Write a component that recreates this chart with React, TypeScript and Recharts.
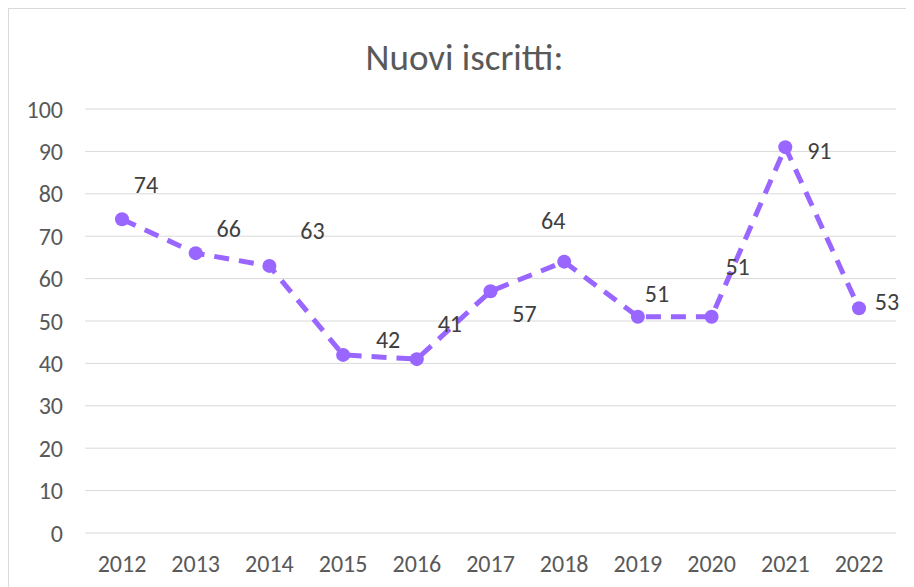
import { LineChart, Line, XAxis, YAxis, CartesianGrid } from "recharts";

const years = ["2012", "2013", "2014", "2015", "2016", "2017", "2018", "2019", "2020", "2021", "2022"];
const iscritti = [74, 66, 63, 42, 41, 57, 64, 51, 51, 91, 53];
const yTicks = [0, 10, 20, 30, 40, 50, 60, 70, 80, 90, 100];

// label placement like the Excel original (dx, dy from the point)
const labelShift: [number, number][] = [
  [24, -35], [33, -25], [43, -35], [45, -15], [33, -36],
  [34, 22], [-11, -41], [19, -23], [26, -50], [34, 3], [28, -7],
];

const data = years.map((year, i) => ({ year, value: iscritti[i] }));

const PURPLE = "#9966FF";
const FONT = "Carlito, 'Liberation Sans', sans-serif";

function renderLabel(props: any) {
  const { x, y, value, index } = props;
  const [dx, dy] = labelShift[index] || [0, -15];
  return (
    <text
      x={x + dx}
      y={y + dy}
      textAnchor="middle"
      dominantBaseline="central"
      fontFamily={FONT}
      fontSize={24}
      fill="#404040"
    >
      {value}
    </text>
  );
}

export default function App() {
  return (
    <div
      style={{
        position: "relative",
        width: 905,
        height: 578,
        borderTop: "1px solid #d9d9d9",
        borderLeft: "1px solid #d9d9d9",
        background: "#fff",
      }}
    >
      <div
        style={{
          position: "absolute",
          top: 26,
          left: 0,
          width: 911,
          textAlign: "center",
          fontFamily: FONT,
          fontSize: 37,
          fontWeight: 300,
          color: "#595959",
        }}
      >
        Nuovi iscritti:
      </div>
      <LineChart
        width={905}
        height={578}
        data={data}
        margin={{ top: 100, right: 18, bottom: 24, left: 36 }}
      >
        <CartesianGrid vertical={false} stroke="#d9d9d9" />
        <XAxis
          dataKey="year"
          axisLine={false}
          tickLine={false}
          padding={{ left: 37, right: 37 }}
          height={30}
          tickMargin={16}
          tick={{ fontFamily: FONT, fontSize: 24, fill: "#595959" }}
          interval={0}
        />
        <YAxis
          domain={[0, 100]}
          ticks={yTicks}
          axisLine={false}
          tickLine={false}
          width={40}
          tickMargin={16}
          tick={{ fontFamily: FONT, fontSize: 24, fill: "#595959" }}
          interval={0}
        />
        <Line
          type="linear"
          dataKey="value"
          stroke={PURPLE}
          strokeWidth={5}
          strokeDasharray="15 10"
          dot={{ r: 7, fill: PURPLE, stroke: "none", strokeDasharray: "0" }}
          activeDot={false}
          label={renderLabel}
          isAnimationActive={false}
        />
      </LineChart>
    </div>
  );
}
